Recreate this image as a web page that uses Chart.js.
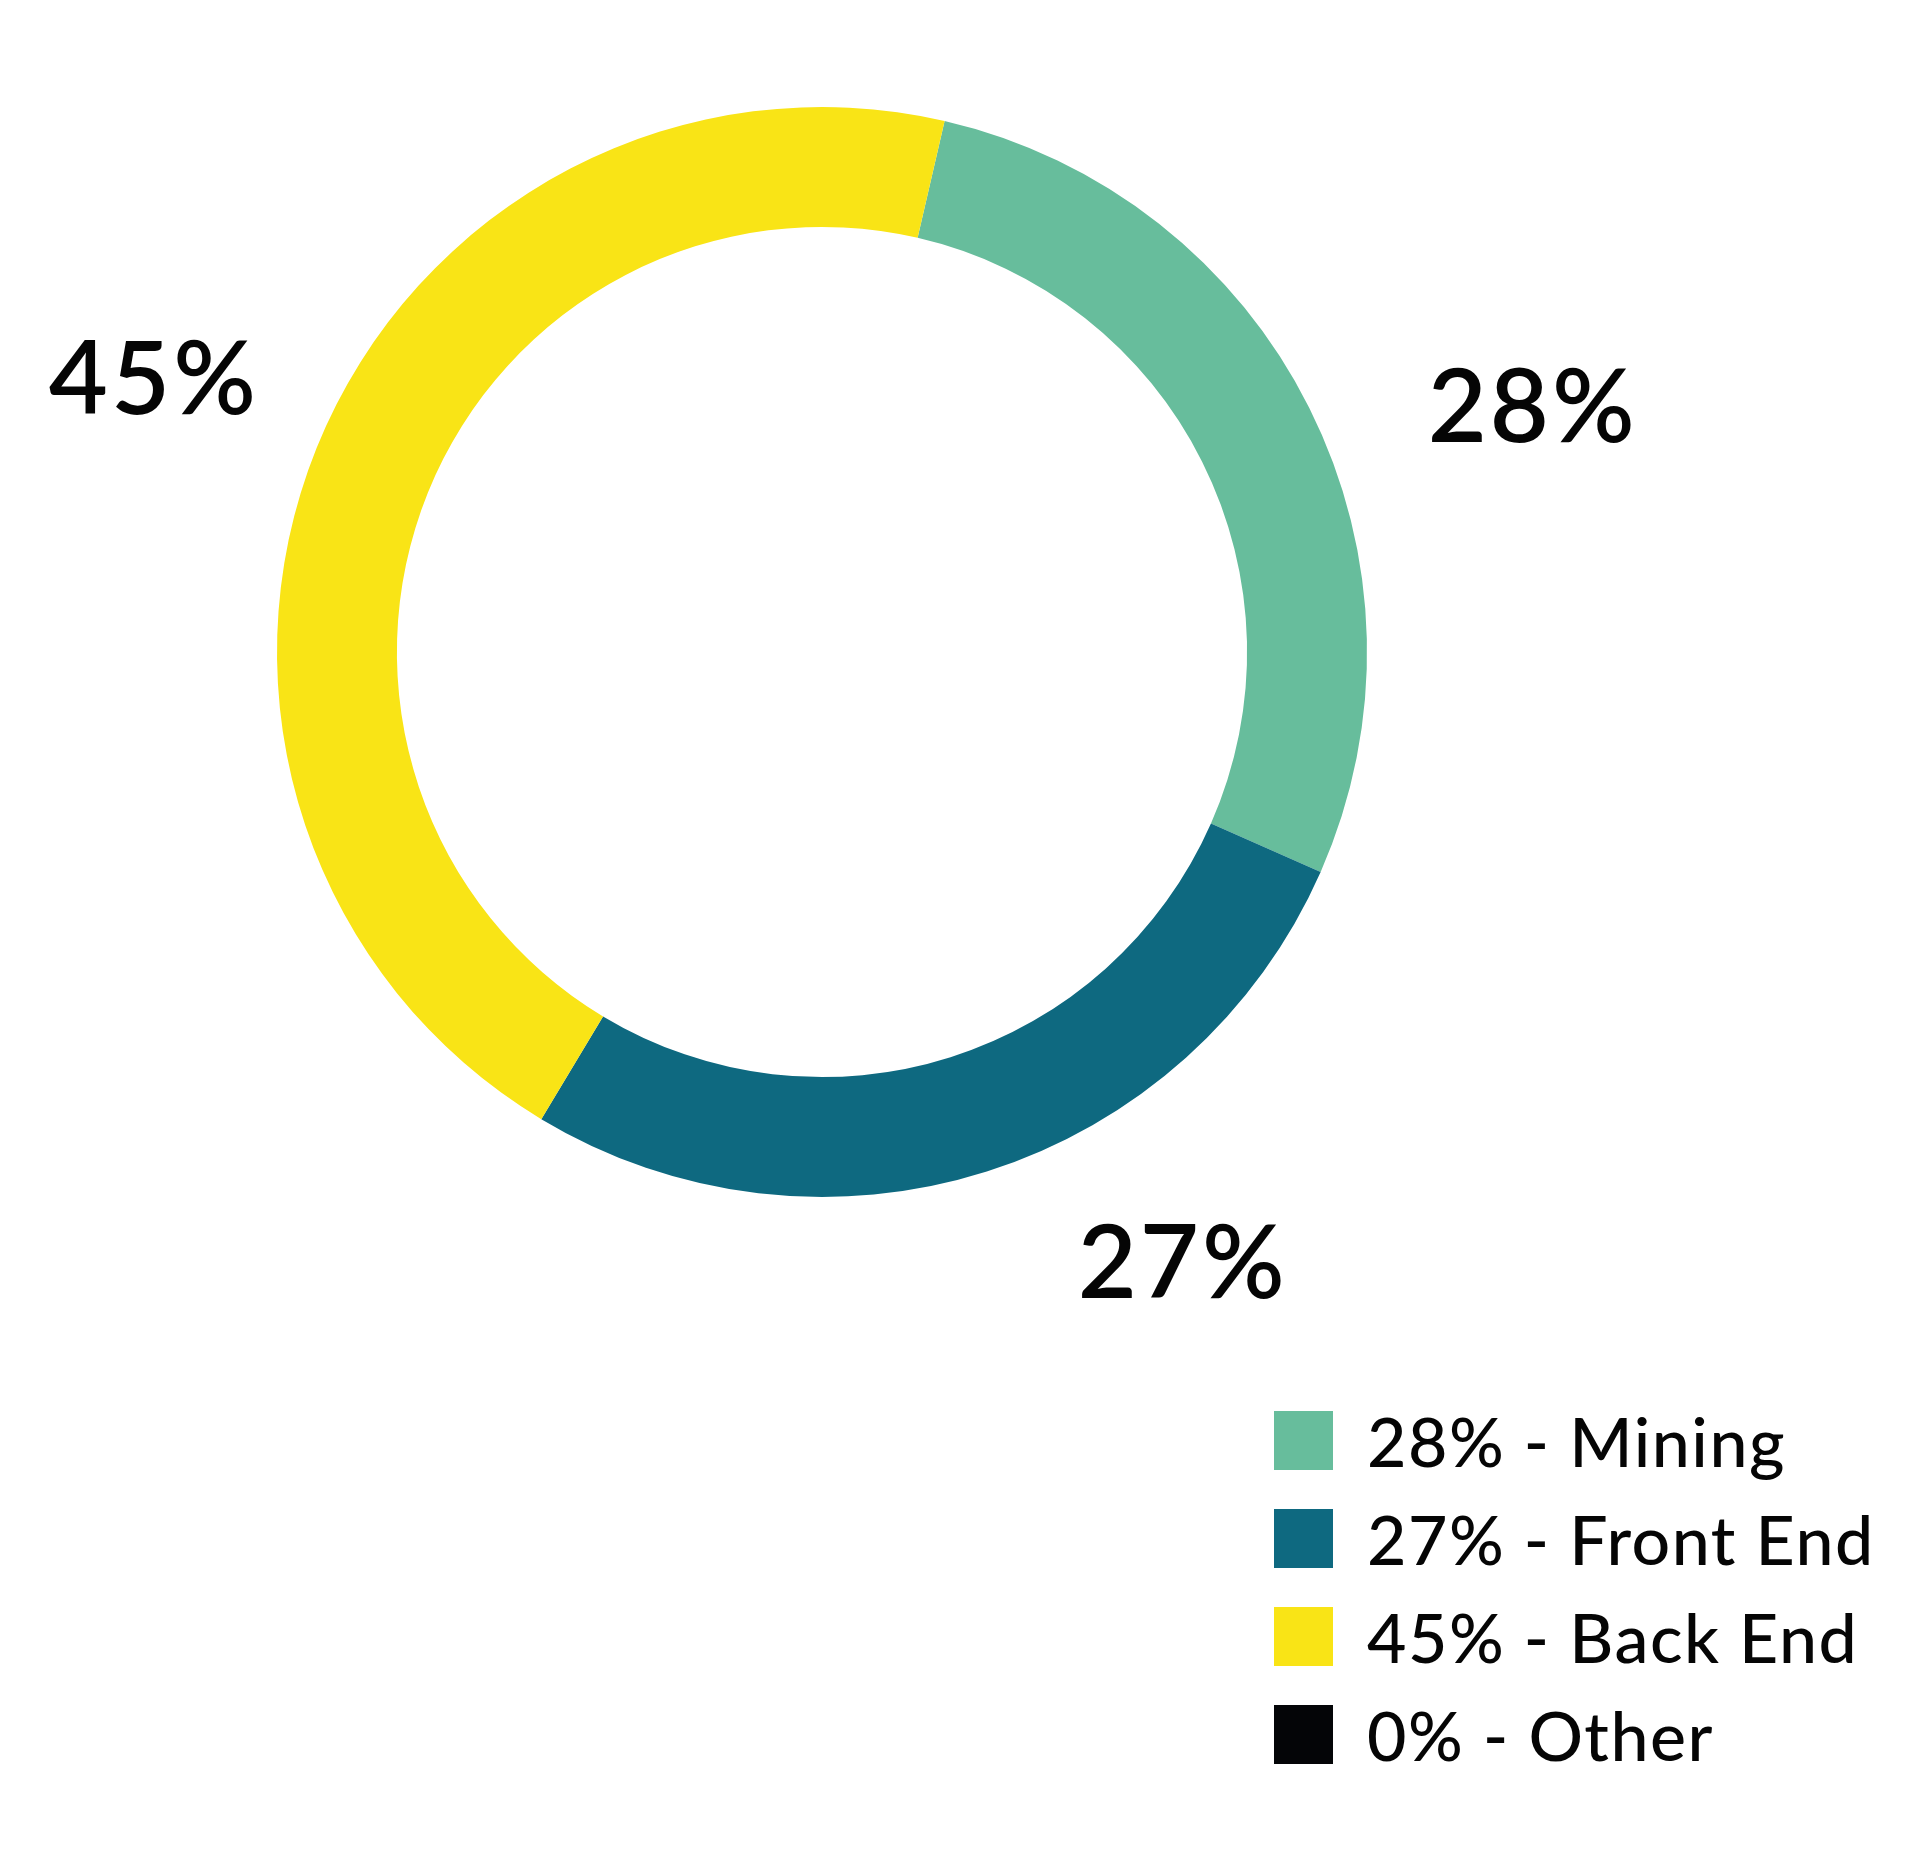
<!doctype html>
<meta charset="utf-8">
<title>Team split</title>
<style>
    html, body {
        margin: 0;
        padding: 0;
        background: #fff;
    }
    .wrap {
        position: relative;
        width: 1920px;
        height: 1851px;
    }
    #chart {
        position: absolute;
        left: 0;
        top: 0;
    }
    #legend {
        position: absolute;
        left: 1274px;
        top: 1411px;
        font-family: Lato, sans-serif;
        font-size: 68px;
        font-weight: 500;
        letter-spacing: 1.5px;
        color: #050505;
    }
    #legend .item {
        display: flex;
        align-items: center;
        height: 59px;
        margin-bottom: 39px;
        white-space: nowrap;
    }
    #legend .box {
        width: 59px;
        height: 59px;
        margin-right: 34px;
        flex: none;
    }
</style>
<body>
    <div class="wrap">
        <canvas id="chart" width="1920" height="1851"></canvas>
        <div id="legend"></div>
    </div>
    <script src="https://cdn.jsdelivr.net/npm/chart.js"></script>
    <script>
        const categories = ["Mining", "Front End", "Back End", "Other"];
        const shares = [28, 27, 45, 0];
        const colours = ["#67bd9c", "#0e6980", "#f9e416", "#040507"];

        // labels around the ring, nudged a bit off the middle of each arc
        const ringLabels = {
            id: "ringLabels",
            afterDatasetsDraw(chart, args, opts) {
                const ctx = chart.ctx;
                const meta = chart.getDatasetMeta(0);
                ctx.save();
                ctx.font = "600 102px Lato, sans-serif";
                ctx.letterSpacing = "3px";
                ctx.fillStyle = "#050505";
                ctx.textAlign = "center";
                ctx.textBaseline = "alphabetic";
                meta.data.forEach((arc, i) => {
                    if (!shares[i]) return;
                    const p = arc.getProps(["x", "y", "startAngle", "endAngle", "outerRadius"], true);
                    const tweak = opts.tweaks[i] || { angle: 0, dist: 1.33 };
                    const a = (p.startAngle + p.endAngle) / 2 + tweak.angle * Math.PI / 180;
                    const r = p.outerRadius * tweak.dist;
                    const x = p.x + Math.cos(a) * r;
                    const y = p.y + Math.sin(a) * r;
                    ctx.fillText(shares[i] + "%", x, y + 36);
                });
                ctx.restore();
            }
        };

        new Chart(document.getElementById("chart"), {
            type: "doughnut",
            data: {
                labels: categories,
                datasets: [{
                    data: shares,
                    backgroundColor: colours,
                    borderWidth: 0,
                    hoverOffset: 0,
                }],
            },
            options: {
                responsive: false,
                animation: false,
                devicePixelRatio: 1,
                rotation: 13,
                cutout: "78%",
                layout: {
                    padding: { left: 277, top: 107, right: 553, bottom: 654 },
                },
                plugins: {
                    legend: { display: false },
                    tooltip: { enabled: false },
                    ringLabels: {
                        tweaks: [
                            { angle: 7.5, dist: 1.38 },
                            { angle: -13, dist: 1.30 },
                            { angle: 0.3, dist: 1.325 },
                        ],
                    },
                },
            },
            plugins: [ringLabels],
        });

        const legend = document.getElementById("legend");
        categories.forEach((name, i) => {
            const item = document.createElement("div");
            item.className = "item";
            const box = document.createElement("span");
            box.className = "box";
            box.style.background = colours[i];
            const text = document.createElement("span");
            text.textContent = shares[i] + "% - " + name;
            item.appendChild(box);
            item.appendChild(text);
            legend.appendChild(item);
        });
    </script>
</body>
